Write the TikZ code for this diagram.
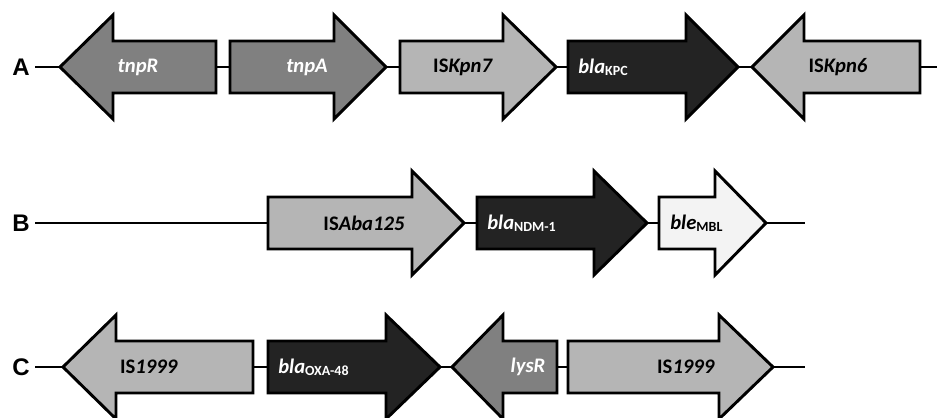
\documentclass[tikz,border=0pt]{standalone}
\usepackage{fontspec}
\setmainfont{Carlito}
\newfontfamily\rowfont{Liberation Sans}
\usepackage{tikz}

\definecolor{tnpgray}{RGB}{128,128,128}
\definecolor{isgray}{RGB}{181,181,181}
\definecolor{blablack}{RGB}{35,35,35}
\definecolor{blewhite}{RGB}{243,243,243}

\tikzset{
  gene/.style={draw=black,line width=2.2pt},
  link/.style={draw=black,line width=0.9pt},
  genetext/.style={inner sep=0pt,font=\fontsize{15.5}{18}\selectfont\bfseries},
  rowlabel/.style={inner sep=4pt,font=\rowfont\fontsize{18}{21}\selectfont\bfseries},
}

% gene pointing right: name, tail x, head base x, tip x, centre y, fill
\newcommand{\fwdgene}[6]{%
  \draw[gene,fill=#6] (#2,#5-26) -- (#3,#5-26) -- (#3,#5-52) -- (#4,#5) -- (#3,#5+52) -- (#3,#5+26) -- (#2,#5+26) -- cycle;
  \coordinate (#1-l) at (#2,#5);
  \coordinate (#1-r) at (#4,#5);}
% gene pointing left: name, tip x, head base x, tail x, centre y, fill
\newcommand{\revgene}[6]{%
  \draw[gene,fill=#6] (#4,#5-26) -- (#3,#5-26) -- (#3,#5-52) -- (#2,#5) -- (#3,#5+52) -- (#3,#5+26) -- (#4,#5+26) -- cycle;
  \coordinate (#1-l) at (#2,#5);
  \coordinate (#1-r) at (#4,#5);}
\newcommand{\gsub}[1]{\raisebox{-1.8pt}{\fontsize{10.5}{12}\selectfont #1}}

\begin{document}
\begin{tikzpicture}[x=0.75pt,y=0.75pt,yscale=-1,xscale=1]
\useasboundingbox (0,0) rectangle (937,417);

% row A
\node[rowlabel] (rowA) at (21,67) {A};
\coordinate (endA) at (937,67);
\revgene{tnpR}{60}{113}{216}{67}{tnpgray}
\fwdgene{tnpA}{230}{334}{386}{67}{tnpgray}
\fwdgene{kpnS}{400}{503}{556}{67}{isgray}
\fwdgene{kpc}{568}{686}{738}{67}{blablack}
\revgene{kpnF}{752}{804}{920}{67}{isgray}
\draw[link] (rowA.east) -- (tnpR-l);
\draw[link] (tnpR-r) -- (tnpA-l);
\draw[link] (tnpA-r) -- (kpnS-l);
\draw[link] (kpnS-r) -- (kpc-l);
\draw[link] (kpc-r) -- (kpnF-l);
\draw[link] (kpnF-r) -- (endA);
\node[genetext,text=white] (tnpR-t) at (138,67) {\textit{tnpR}};
\node[genetext,text=white] (tnpA-t) at (307,67) {\textit{tnpA}};
\node[genetext] (kpnS-t) at (463,67) {IS\textit{Kpn7}};
\node[genetext,text=white,anchor=west] (kpc-t) at (578,67) {\textit{bla}\gsub{KPC}};
\node[genetext] (kpnF-t) at (838,67) {IS\textit{Kpn6}};

% row B
\node[rowlabel] (rowB) at (21,223) {B};
\coordinate (endB) at (805,223);
\fwdgene{aba}{268}{412}{464}{223}{isgray}
\fwdgene{ndm}{477}{594}{647}{223}{blablack}
\fwdgene{ble}{659}{715}{766}{223}{blewhite}
\draw[link] (rowB.east) -- (aba-l);
\draw[link] (aba-r) -- (ndm-l);
\draw[link] (ndm-r) -- (ble-l);
\draw[link] (ble-r) -- (endB);
\node[genetext] (aba-t) at (364,223) {IS\textit{Aba125}};
\node[genetext,text=white,anchor=west] (ndm-t) at (487,223) {\textit{bla}\gsub{NDM-1}};
\node[genetext,anchor=west] (ble-t) at (670,223) {\textit{ble}\gsub{MBL}};

% row C
\node[rowlabel] (rowC) at (21,367) {C};
\coordinate (endC) at (805,367);
\revgene{isL}{63}{116}{253}{367}{isgray}
\fwdgene{oxa}{268}{386}{440}{367}{blablack}
\revgene{lys}{452}{503}{557}{367}{tnpgray}
\fwdgene{isR}{568}{719}{773}{367}{isgray}
\draw[link] (rowC.east) -- (isL-l);
\draw[link] (isL-r) -- (oxa-l);
\draw[link] (oxa-r) -- (lys-l);
\draw[link] (lys-r) -- (isR-l);
\draw[link] (isR-r) -- (endC);
\node[genetext] (isL-t) at (149,367) {IS\textit{1999}};
\node[genetext,text=white,anchor=west] (oxa-t) at (278,367) {\textit{bla}\gsub{OXA-48}};
\node[genetext,text=white] (lys-t) at (528,367) {\textit{lysR}};
\node[genetext] (isR-t) at (686,367) {IS\textit{1999}};
\end{tikzpicture}
\end{document}
